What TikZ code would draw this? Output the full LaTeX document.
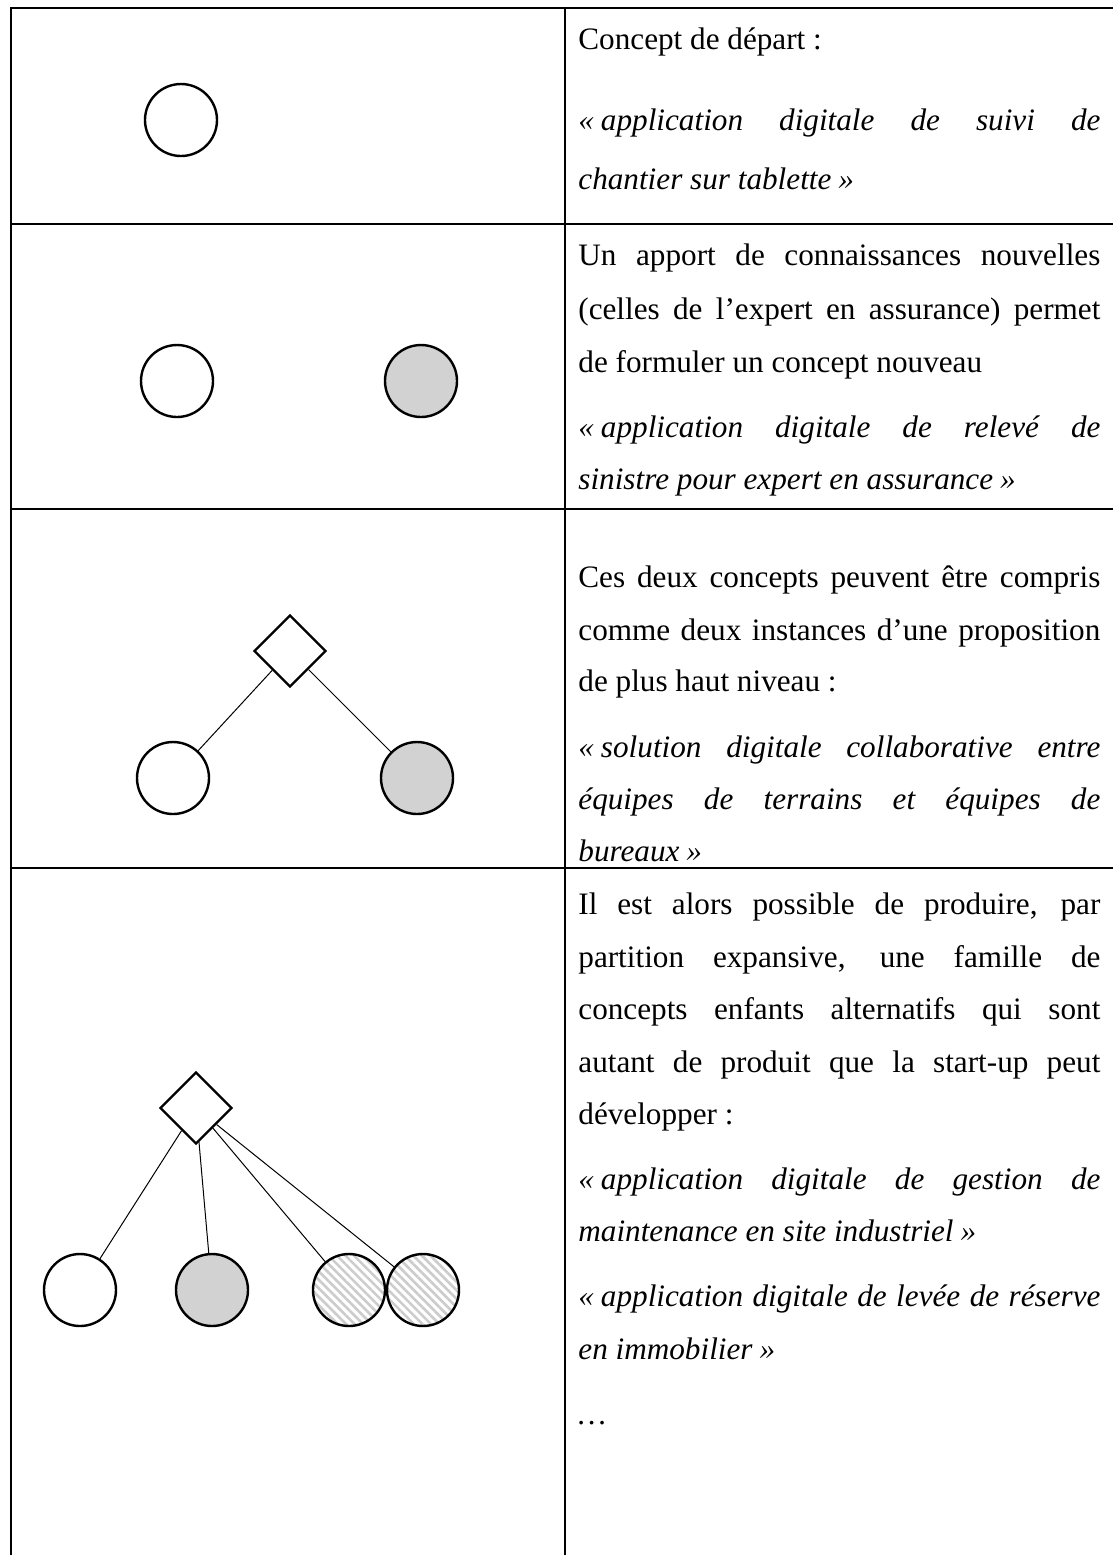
\documentclass[tikz,border=0pt]{standalone}
\usepackage{fontspec}
\setmainfont{Liberation Serif}
\usetikzlibrary{shapes.geometric,patterns.meta,positioning}
\tikzstyle{tableline} = [line width=1.4pt, black]
\tikzstyle{concept} = [draw, circle, line width=1.2pt, minimum size=36pt, inner sep=0pt, fill=white]
\tikzstyle{known} = [concept, fill=gray!35]
\tikzstyle{hatched} = [concept, pattern={Lines[angle=-45,distance=3pt,line width=1.3pt]}, pattern color=gray!40]
\tikzstyle{proposition} = [draw, diamond, line width=1.2pt, minimum size=36pt, inner sep=0pt, fill=white]
\tikzstyle{link} = [draw, line width=0.5pt]
\tikzstyle{txt} = [anchor=base west, inner sep=0pt, font=\fontsize{15.6pt}{18pt}\selectfont]
\newcommand{\fullline}[1]{\makebox[261pt][s]{#1}}
\newcommand{\guilo}{«\kern3.5pt}
\newcommand{\guilf}{\kern3.5pt»}

\begin{document}
\begin{tikzpicture}[x=0.5pt, y=-0.5pt]
\useasboundingbox (0, 0) rectangle (1113, 1555);
%% table
\draw[tableline] (11, 1555) -- (11, 8) -- (1113, 8);
\draw[tableline] (565, 8) -- (565, 1555);
\draw[tableline] (11, 224) -- (1113, 224);
\draw[tableline] (11, 509) -- (1113, 509);
\draw[tableline] (11, 868) -- (1113, 868);

%% row 1
\node[concept] (start) at (181, 120) {};
\node[txt] (t1a) at (578, 49) {Concept de départ :};
\node[txt] (t1b) at (578, 130) {\itshape\fullline{\guilo application digitale de suivi de}};
\node[txt] (t1c) at (578, 189) {\itshape chantier sur tablette\guilf};

%% row 2
\node[concept] (startb) at (177, 381) {};
\node[known] (claim) at (421, 381) {};
\node[txt] (t2a) at (578, 265) {\fullline{Un apport de connaissances nouvelles}};
\node[txt] (t2b) at (578, 319) {\fullline{(celles de l’expert en assurance) permet}};
\node[txt] (t2c) at (578, 372) {de formuler un concept nouveau};
\node[txt] (t2d) at (578, 437) {\itshape\fullline{\guilo application digitale de relevé de}};
\node[txt] (t2e) at (578, 489) {\itshape sinistre pour expert en assurance\guilf};

%% row 3
\node[proposition] (top) at (290, 651) {};
\node[concept] (startc) at (173, 778) {};
\node[known] (claimc) at (417, 778) {};
\draw[link] (top) -- (startc);
\draw[link] (top) -- (claimc);
\node[txt] (t3a) at (578, 587) {\fullline{Ces deux concepts peuvent être compris}};
\node[txt] (t3b) at (578, 640) {\fullline{comme deux instances d’une proposition}};
\node[txt] (t3c) at (578, 691) {de plus haut niveau :};
\node[txt] (t3d) at (578, 757) {\itshape\fullline{\guilo solution digitale collaborative entre}};
\node[txt] (t3e) at (578, 809) {\itshape\fullline{équipes de terrains et équipes de}};
\node[txt] (t3f) at (578, 861) {\itshape bureaux\guilf};

%% row 4
\node[proposition] (topd) at (196, 1108) {};
\node[concept] (startd) at (80, 1290) {};
\node[known] (claimd) at (212, 1290) {};
\node[hatched] (childa) at (349, 1290) {};
\node[hatched] (childb) at (423, 1290) {};
\draw[link] (topd) -- (startd);
\draw[link] (topd) -- (claimd);
\draw[link] (topd) -- (childa);
\draw[link] (topd) -- (childb);
\node[txt] (t4a) at (578, 914) {\fullline{Il est alors possible de produire, par}};
\node[txt] (t4b) at (578, 967) {\fullline{partition expansive, une famille de}};
\node[txt] (t4c) at (578, 1019) {\fullline{concepts enfants alternatifs qui sont}};
\node[txt] (t4d) at (578, 1072) {\fullline{autant de produit que la start-up peut}};
\node[txt] (t4e) at (578, 1124) {développer :};
\node[txt] (t4f) at (578, 1189) {\itshape\fullline{\guilo application digitale de gestion de}};
\node[txt] (t4g) at (578, 1241) {\itshape maintenance en site industriel\guilf};
\node[txt] (t4h) at (578, 1306) {\itshape\fullline{\guilo application digitale de levée de réserve}};
\node[txt] (t4i) at (578, 1359) {\itshape en immobilier\guilf};
\node[txt] (t4j) at (578, 1424) {\itshape …};
\end{tikzpicture}
\end{document}
